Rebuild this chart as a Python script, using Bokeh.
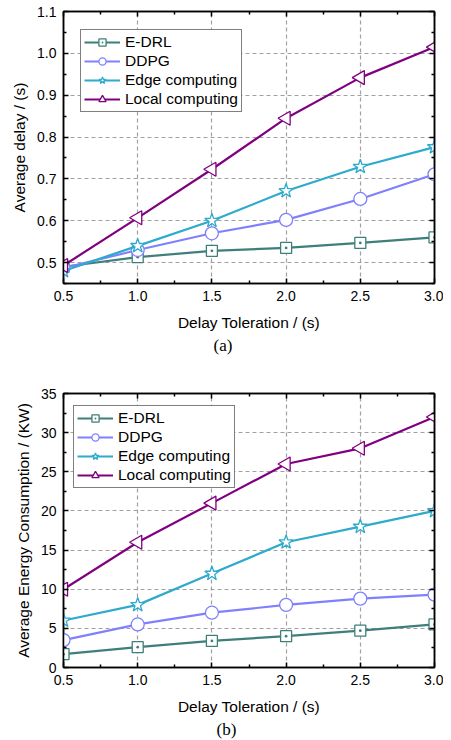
import math
from bokeh.plotting import figure
from bokeh.models import (LinearAxis, FixedTicker, Range1d, NumeralTickFormatter,
                          Legend, LegendItem, CustomLabelingPolicy)
from bokeh.layouts import column
from bokeh.embed import file_html
from bokeh.resources import INLINE

x = [0.5, 1.0, 1.5, 2.0, 2.5, 3.0]

names = ["E-DRL", "DDPG", "Edge computing", "Local computing"]

delay_edrl = [0.490, 0.513, 0.528, 0.535, 0.547, 0.560]
delay_ddpg = [0.487, 0.530, 0.570, 0.602, 0.652, 0.711]
delay_edge = [0.480, 0.540, 0.600, 0.671, 0.729, 0.776]
delay_local = [0.493, 0.607, 0.723, 0.845, 0.942, 1.015]

energy_edrl = [1.7, 2.6, 3.4, 4.0, 4.7, 5.5]
energy_ddpg = [3.5, 5.5, 7.0, 8.0, 8.8, 9.3]
energy_edge = [6.0, 8.0, 12.0, 16.0, 18.0, 20.0]
energy_local = [10.0, 16.0, 21.0, 26.0, 28.0, 32.0]

x_ticks = [0.5, 1.0, 1.5, 2.0, 2.5, 3.0]
x_minor = [0.75, 1.25, 1.75, 2.25, 2.75]
delay_ticks = [0.5, 0.6, 0.7, 0.8, 0.9, 1.0, 1.1]
delay_minor = [0.45, 0.55, 0.65, 0.75, 0.85, 0.95, 1.05]
energy_ticks = [0, 5, 10, 15, 20, 25, 30, 35]
energy_minor = [2.5, 7.5, 12.5, 17.5, 22.5, 27.5, 32.5]

colors = ["#3e7f7b", "#8080ff", "#2eaacc", "#800080"]
markers = ["square_dot", "circle", "star", "triangle"]
msizes = [11, 13, 15, 14]
angles = [0, 0, 0, math.pi / 2]

FONT = "Liberation Sans"

NO_LABELS = """
for (const i of indices)
    indices.unset(i)
return indices
"""


def style_axis(ax, ticks, minor, fmt, show_labels=True, label_standoff=10):
    ax.ticker = FixedTicker(ticks=ticks, minor_ticks=minor)
    ax.formatter = NumeralTickFormatter(format=fmt)
    ax.axis_line_color = "black"
    ax.axis_line_width = 1.5
    ax.major_tick_line_color = "black"
    ax.major_tick_line_width = 1.5
    ax.minor_tick_line_color = "black"
    ax.minor_tick_line_width = 1.5
    ax.major_tick_in = 5
    ax.major_tick_out = 0
    ax.minor_tick_in = 3
    ax.minor_tick_out = 0
    ax.major_label_text_font = FONT
    ax.major_label_text_color = "black"
    if show_labels:
        ax.major_label_text_font_size = "14px"
        ax.major_label_standoff = 7
        ax.axis_label_text_font = FONT
        ax.axis_label_text_font_size = "15.5px"
        ax.axis_label_text_font_style = "normal"
        ax.axis_label_text_color = "black"
        ax.axis_label_standoff = label_standoff
    else:
        ax.major_label_text_font_size = "1px"
        ax.major_label_policy = CustomLabelingPolicy(code=NO_LABELS)
        ax.major_label_standoff = 0


def make_fig(series, yr, yticks, yminor, yfmt, ylabel, caption, width, height,
             bl, bt, bb, legend_loc, cap_offset):
    p = figure(width=width, height=height, output_backend="svg", toolbar_location=None,
               x_range=Range1d(0.5, 3.0), y_range=Range1d(*yr),
               min_border_left=bl, min_border_right=9, min_border_top=bt,
               min_border_bottom=bb, title=caption, title_location="below")
    p.title.align = "left"
    p.title.offset = cap_offset
    p.title.text_font = "Liberation Serif"
    p.title.text_font_size = "17px"
    p.title.text_font_style = "normal"
    p.title.text_color = "black"
    p.title.standoff = 0
    p.outline_line_color = "black"
    p.outline_line_width = 1.5
    p.background_fill_color = "white"
    p.border_fill_color = "white"

    style_axis(p.xaxis[0], x_ticks, x_minor, "0.0", label_standoff=10)
    style_axis(p.yaxis[0], yticks, yminor, yfmt, label_standoff=6)
    p.xaxis[0].axis_label = "Delay Toleration / (s)"
    p.yaxis[0].axis_label = ylabel

    top = LinearAxis()
    style_axis(top, x_ticks, x_minor, "0.0", show_labels=False)
    p.add_layout(top, "above")
    right = LinearAxis()
    style_axis(right, yticks, yminor, yfmt, show_labels=False)
    p.add_layout(right, "right")

    p.xgrid.ticker = FixedTicker(ticks=x_ticks)
    p.ygrid.ticker = FixedTicker(ticks=yticks)
    for g in (p.xgrid, p.ygrid):
        g.grid_line_color = "#a0a0a0"
        g.grid_line_dash = "4 3"
        g.grid_line_width = 1.2

    items = []
    for ys, name, c, m, s, a in zip(series, names, colors, markers, msizes, angles):
        ln = p.line(x, ys, line_color=c, line_width=2.2)
        sc = p.scatter(x, ys, marker=m, size=s, angle=a, line_color=c, line_width=1.3,
                       fill_color="white")
        items.append(LegendItem(label=name, renderers=[ln, sc]))

    leg = Legend(items=items, location=legend_loc)
    leg.label_text_font = FONT
    leg.label_text_font_size = "15.5px"
    leg.label_text_color = "black"
    leg.label_height = 18
    leg.glyph_height = 18
    leg.glyph_width = 36
    leg.label_standoff = 5
    leg.spacing = 1
    leg.padding = 3
    leg.margin = 0
    leg.border_line_color = "black"
    leg.border_line_width = 1.5
    leg.background_fill_alpha = 1
    p.add_layout(leg, "center")
    return p


p1 = make_fig([delay_edrl, delay_ddpg, delay_edge, delay_local], (0.45, 1.1),
              delay_ticks, delay_minor, "0.0", "Average delay / (s)", "(a)",
              443, 362, 63, 11, 79, (17, 171), 150)
p2 = make_fig([energy_edrl, energy_ddpg, energy_edge, energy_local], (0, 35),
              energy_ticks, energy_minor, "0", "Average Energy Consumption / (KW)", "(b)",
              443, 378, 60, 31, 73, (10, 179), 153)

layout = column(p1, p2, spacing=0)
open("out.html", "w").write(file_html(layout, INLINE))
